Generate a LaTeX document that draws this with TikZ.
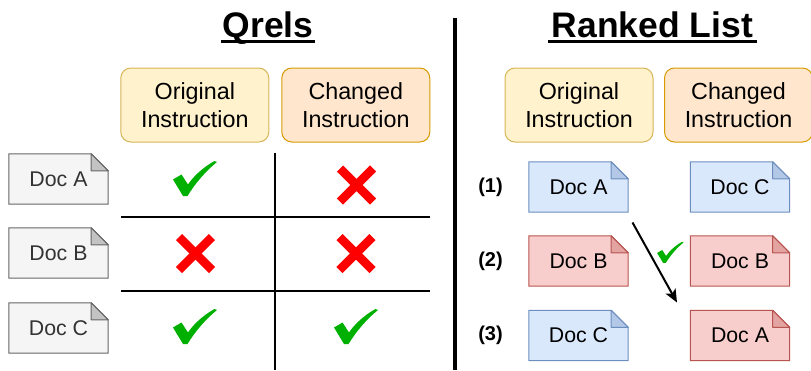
\documentclass[tikz,border=0pt]{standalone}
\usepackage{fontspec}
\setmainfont{Liberation Sans}
\usetikzlibrary{arrows.meta,backgrounds}
\definecolor{bluefill}{HTML}{DAE8FC}\definecolor{bluedraw}{HTML}{6C8EBF}
\definecolor{redfill}{HTML}{F8CECC}\definecolor{reddraw}{HTML}{B85450}
\definecolor{grayfill}{HTML}{F5F5F5}\definecolor{graydraw}{HTML}{666666}
\definecolor{graytext}{HTML}{333333}
\definecolor{yelfill}{HTML}{FFF2CC}\definecolor{yeldraw}{HTML}{D6B656}
\definecolor{orafill}{HTML}{FFE6CC}\definecolor{oradraw}{HTML}{D79B00}
\definecolor{checkgreen}{HTML}{00B000}
\definecolor{crossred}{HTML}{FF0000}
\tikzset{
  hdr/.style={rounded corners=10pt, line width=1pt, minimum width=148pt, minimum height=74pt,
    inner sep=0pt, align=center, font=\fontsize{23.3}{28}\selectfont},
  origbox/.style={hdr, fill=yelfill, draw=yeldraw},
  chgbox/.style={hdr, fill=orafill, draw=oradraw},
  docnode/.style={minimum width=99pt, minimum height=50pt, inner sep=0pt, font=\fontsize{21.3}{25}\selectfont},
  title/.style={font=\bfseries\fontsize{35.5}{40}\selectfont, inner sep=0pt, anchor=base},
  rank/.style={font=\bfseries\fontsize{20}{24}\selectfont, inner sep=0pt},
  gridline/.style={line width=1.2pt, black},
  crossline/.style={line width=8.5pt, crossred, line cap=butt},
}
% doc shape behind a named node: #1 name, #2 fill, #3 draw
\newcommand{\docback}[3]{%
  \begin{scope}[on background layer]
  \path[fill=#2, draw=#3, line width=1pt]
    (#1.north west) -- ([xshift=-17pt]#1.north east) -- ([yshift=-17pt]#1.north east)
    -- (#1.south east) -- (#1.south west) -- cycle;
  \path[fill=#3!35!#2, draw=#3, line width=1pt, line join=round]
    ([xshift=-17pt]#1.north east) -- ([xshift=-17pt,yshift=-17pt]#1.north east) -- ([yshift=-17pt]#1.north east) -- cycle;
  \end{scope}}
% checkmark: #1 center, #2 scale
\newcommand{\checkmk}[2]{%
  \fill[checkgreen, shift={#1}, scale=#2]
    (-21.5,0) -- (-13,-5) -- (-6.5,5)
    .. controls (-2,-2) and (8,-12) .. (20,-18.5)
    -- (22.5,-17.5)
    .. controls (12,-9) and (2,2) .. (-7,16.5)
    -- (-11.5,16.5) -- cycle;}
\newcommand{\crossmk}[1]{%
  \draw[crossline, shift={#1}] (-16.5,-16.5) -- (16.5,16.5);
  \draw[crossline, shift={#1}] (-16.5,16.5) -- (16.5,-16.5);}
\begin{document}
\begin{tikzpicture}[x=1pt,y=-1pt]
\useasboundingbox (0,0) rectangle (811,370);
% titles
\node[title] (tq) at (268,37.5) {Qrels};
\draw[line width=2.2pt] (221,41.5) -- (315,41.5);
\node[title] (tr) at (652.5,37.5) {Ranked List};
\draw[line width=2.2pt] (548,41.5) -- (757,41.5);
% divider
\draw[line width=4pt] (455,18) -- (455,370);
% header boxes
\node[origbox] (qo) at (194.8,105) {Original\\Instruction};
\node[chgbox]  (qc) at (355.8,105) {Changed\\Instruction};
\node[origbox] (ro) at (579,105) {Original\\Instruction};
\node[chgbox]  (rc) at (738.5,105) {Changed\\Instruction};
% qrels docs
\node[docnode, text=graytext] (da) at (58.5,179) {Doc A};
\node[docnode, text=graytext] (db) at (58.5,253) {Doc B};
\node[docnode, text=graytext] (dc) at (58.5,328) {Doc C};
\docback{da}{grayfill}{graydraw}
\docback{db}{grayfill}{graydraw}
\docback{dc}{grayfill}{graydraw}
% grid
\draw[gridline] (275,153) -- (275,370);
\draw[gridline] (121,217) -- (430,217);
\draw[gridline] (121,291) -- (430,291);
% marks
\checkmk{(194.5,179.5)}{1}
\crossmk{(356.5,185)}
\crossmk{(195.5,253.5)}
\crossmk{(356,253.5)}
\checkmk{(194.5,327.5)}{1}
\checkmk{(355.5,327.5)}{1}
% ranked list
\node[rank] (r1) at (490.5,187) {(1)};
\node[rank] (r2) at (490.5,261) {(2)};
\node[rank] (r3) at (490.5,335) {(3)};
\node[docnode] (la) at (578.5,187) {Doc A};
\node[docnode] (lb) at (578.5,261) {Doc B};
\node[docnode] (lc) at (578.5,335.5) {Doc C};
\node[docnode] (xc) at (740,187) {Doc C};
\node[docnode] (xb) at (740,261) {Doc B};
\node[docnode] (xa) at (740,335.5) {Doc A};
\docback{la}{bluefill}{bluedraw}
\docback{lb}{redfill}{reddraw}
\docback{lc}{bluefill}{bluedraw}
\docback{xc}{bluefill}{bluedraw}
\docback{xb}{redfill}{reddraw}
\docback{xa}{redfill}{reddraw}
\coordinate (arrs) at (632.5,222.5);
\coordinate (arre) at (677,302.5);
\draw[line width=2pt, -{Stealth[length=13pt,width=11pt,inset=3pt]}] (arrs) -- (arre);
\checkmk{(670,253)}{0.6}
\end{tikzpicture}
\end{document}
